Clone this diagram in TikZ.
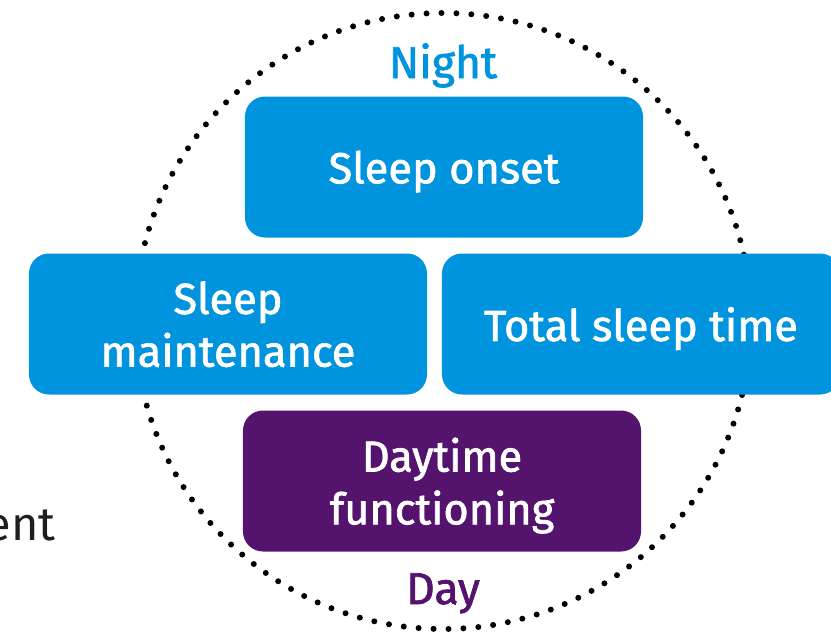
\documentclass[tikz,border=0pt]{standalone}
\usepackage{fontspec}
\setmainfont{Fira Sans}
\newfontfamily\medfont{Fira Sans}[FakeBold=1.6]
\definecolor{sleepblue}{RGB}{0,148,222}
\definecolor{daypurple}{RGB}{84,20,110}
\definecolor{textgray}{RGB}{30,30,30}
\begin{document}
\begin{tikzpicture}[x=0.03cm,y=-0.03cm,
    box/.style={rounded corners=0.6cm,minimum width=11.94cm,minimum height=4.23cm,
        text=white,align=center,text depth=0pt,font=\medfont\fontsize{37}{45}\selectfont},
    tag/.style={font=\medfont\fontsize{38}{44}\selectfont,anchor=base}]
    \useasboundingbox (0,0) rectangle (831,639);
    \draw[line width=5.1pt,line cap=round,dash pattern=on 0pt off 12.76pt] (443,321) circle [radius=308];
    \node[box,fill=sleepblue] (onset) at (444,167) {Sleep onset};
    \node[box,fill=sleepblue] (maint) at (228,324) {Sleep\\maintenance};
    \node[box,fill=sleepblue] (total) at (641,324) {Total sleep time};
    \node[box,fill=daypurple] (daytime) at (442,481) {Daytime\\functioning};
    \node[tag,text=sleepblue] (night) at (443,78) {Night};
    \node[tag,text=daypurple] (day) at (443,604) {Day};
    \node[anchor=base east,text=textgray,font=\fontsize{40}{48}\selectfont,inner sep=0pt] (ent) at (56,540) {ent};
\end{tikzpicture}
\end{document}
